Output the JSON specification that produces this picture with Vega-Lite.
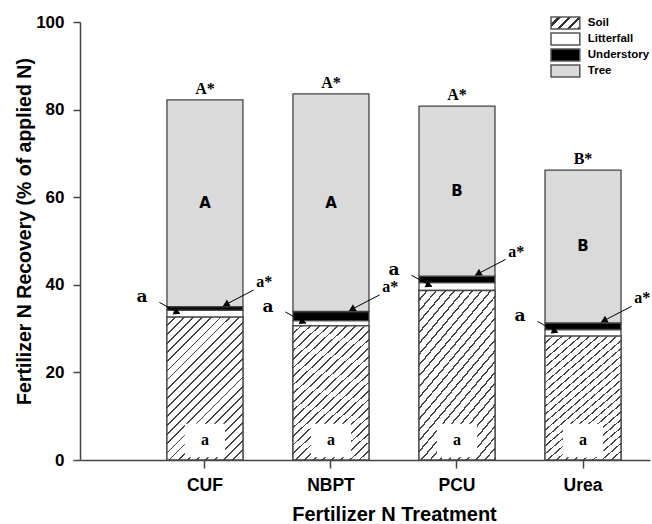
{
  "$schema": "https://vega.github.io/schema/vega-lite/v6.json",
  "width": 570,
  "height": 438,
  "autosize": "none",
  "padding": {"left": 80, "top": 22, "right": 2, "bottom": 64},
  "background": "white",
  "config": {
    "view": {"stroke": null},
    "font": "Liberation Sans",
    "axis": {"grid": false, "domainColor": "#444", "tickColor": "#444", "domainWidth": 1.5, "tickWidth": 1.5, "labelColor": "#000", "titleColor": "#000", "labelFont": "Liberation Sans", "titleFont": "Liberation Sans", "labelFontWeight": "bold", "titleFontWeight": "bold"}
  },
  "data": {
    "values": [
      {"treatment": "CUF", "Soil": 32.6, "Litterfall": 1.6, "Understory": 0.8, "Tree": 47.2, "sigTotal": "A*", "sigTree": "A", "sigSoil": "a", "sigLitter": "a", "sigUnder": "a*"},
      {"treatment": "NBPT", "Soil": 30.6, "Litterfall": 1.2, "Understory": 2.1, "Tree": 49.7, "sigTotal": "A*", "sigTree": "A", "sigSoil": "a", "sigLitter": "a", "sigUnder": "a*"},
      {"treatment": "PCU", "Soil": 38.7, "Litterfall": 1.8, "Understory": 1.5, "Tree": 38.8, "sigTotal": "A*", "sigTree": "B", "sigSoil": "a", "sigLitter": "a", "sigUnder": "a*"},
      {"treatment": "Urea", "Soil": 28.3, "Litterfall": 1.5, "Understory": 1.5, "Tree": 34.9, "sigTotal": "B*", "sigTree": "B", "sigSoil": "a", "sigLitter": "a", "sigUnder": "a*"}
    ]
  },
  "transform": [
    {"calculate": "datum.Soil + datum.Litterfall", "as": "cum1"},
    {"calculate": "datum.cum1 + datum.Understory", "as": "cum2"},
    {"calculate": "datum.cum2 + datum.Tree", "as": "total"},
    {"calculate": "datum.cum2 + datum.Tree / 2", "as": "treeMid"},
    {"calculate": "datum.Soil + datum.Litterfall / 2", "as": "tipL"},
    {"calculate": "datum.tipL + 2.6", "as": "startL"},
    {"calculate": "datum.tipL + 0.3", "as": "headL"},
    {"calculate": "datum.tipL + 3.8", "as": "labL"},
    {"calculate": "datum.cum2 + 0.2", "as": "tipR"},
    {"calculate": "datum.cum2 + 3.8", "as": "startR"},
    {"calculate": "datum.cum2 + 0.5", "as": "headR"},
    {"calculate": "datum.cum2 + 5.6", "as": "labR"}
  ],
  "layer": [
    {
      "transform": [
        {"fold": ["Soil", "Litterfall", "Understory", "Tree"], "as": ["component", "pct"]},
        {"calculate": "indexof(['Soil','Litterfall','Understory','Tree'], datum.component)", "as": "ord"}
      ],
      "mark": {"type": "bar", "stroke": "#444", "strokeWidth": 1.3},
      "encoding": {
        "x": {"field": "treatment", "type": "nominal", "sort": null, "title": "Fertilizer N Treatment",
          "scale": {"paddingInner": 0.397, "paddingOuter": 0.46, "align": 0.75},
          "axis": {"labelAngle": 0, "labelFontSize": 17.5, "tickSize": 8, "labelPadding": 8, "titleFontSize": 20, "titlePadding": 11, "titleX": 314}},
        "y": {"field": "pct", "type": "quantitative", "stack": "zero", "title": "Fertilizer N Recovery (% of applied N)",
          "scale": {"domain": [0, 100], "nice": false},
          "axis": {"values": [0, 20, 40, 60, 80, 100], "tickSize": 7, "labelPadding": 9, "labelFontSize": 17, "titleFontSize": 19.5, "titlePadding": 1, "titleY": 209}},
        "fill": {"field": "component", "type": "nominal", "sort": ["Soil", "Litterfall", "Understory", "Tree"],
          "scale": {"domain": ["Soil", "Litterfall", "Understory", "Tree"], "range": [
            {"expr": "{gradient: 'linear', x1: 0, y1: 0, x2: 1.2, y2: 0.5, stops: [{offset: 0, color: '#fff'}, {offset: 0.17, color: '#fff'}, {offset: 0.17, color: '#333'}, {offset: 0.25, color: '#333'}, {offset: 0.25, color: '#fff'}, {offset: 0.42, color: '#fff'}, {offset: 0.42, color: '#333'}, {offset: 0.5, color: '#333'}, {offset: 0.5, color: '#fff'}, {offset: 0.67, color: '#fff'}, {offset: 0.67, color: '#333'}, {offset: 0.75, color: '#333'}, {offset: 0.75, color: '#fff'}, {offset: 0.92, color: '#fff'}, {offset: 0.92, color: '#333'}, {offset: 1, color: '#333'}]}"},
            "#ffffff", "#000000", "#dadada"]},
          "legend": {
            "orient": "none", "legendX": 478.4, "legendY": -6, "title": null, "padding": 0,
            "symbolType": "M-2.4,-1H2.4V1H-2.4Z", "symbolSize": 144, "symbolStrokeColor": "#444", "symbolStrokeWidth": 1.5, "symbolOpacity": 1,
            "labelFont": "Liberation Sans", "labelFontWeight": "bold", "labelFontSize": 11.5, "labelOffset": 15.4, "rowPadding": -2.5, "labelColor": "#000",
            "encode": {"symbols": {"update": {
              "stroke": {"value": "#555"},
              "strokeWidth": {"value": 1.5}
            }}}
          }},
        "order": {"field": "ord", "type": "quantitative"}
      }
    },
    {
      "mark": {"type": "bar", "stroke": "#444", "strokeWidth": 1.3,
        "fill": {"gradient": "linear", "x1": 0, "y1": 0, "x2": 0.635, "y2": 1.194, "stops": [
          {"offset": 0, "color": "#fff"}, {"offset": 0.033, "color": "#fff"}, {"offset": 0.033, "color": "#444"}, {"offset": 0.04167, "color": "#444"},
          {"offset": 0.04167, "color": "#fff"}, {"offset": 0.075, "color": "#fff"}, {"offset": 0.075, "color": "#444"}, {"offset": 0.08333, "color": "#444"},
          {"offset": 0.08333, "color": "#fff"}, {"offset": 0.11667, "color": "#fff"}, {"offset": 0.11667, "color": "#444"}, {"offset": 0.125, "color": "#444"},
          {"offset": 0.125, "color": "#fff"}, {"offset": 0.15833, "color": "#fff"}, {"offset": 0.15833, "color": "#444"}, {"offset": 0.16667, "color": "#444"},
          {"offset": 0.16667, "color": "#fff"}, {"offset": 0.2, "color": "#fff"}, {"offset": 0.2, "color": "#444"}, {"offset": 0.20833, "color": "#444"},
          {"offset": 0.20833, "color": "#fff"}, {"offset": 0.24167, "color": "#fff"}, {"offset": 0.24167, "color": "#444"}, {"offset": 0.25, "color": "#444"},
          {"offset": 0.25, "color": "#fff"}, {"offset": 0.28333, "color": "#fff"}, {"offset": 0.28333, "color": "#444"}, {"offset": 0.29167, "color": "#444"},
          {"offset": 0.29167, "color": "#fff"}, {"offset": 0.325, "color": "#fff"}, {"offset": 0.325, "color": "#444"}, {"offset": 0.33333, "color": "#444"},
          {"offset": 0.33333, "color": "#fff"}, {"offset": 0.36667, "color": "#fff"}, {"offset": 0.36667, "color": "#444"}, {"offset": 0.375, "color": "#444"},
          {"offset": 0.375, "color": "#fff"}, {"offset": 0.40833, "color": "#fff"}, {"offset": 0.40833, "color": "#444"}, {"offset": 0.41667, "color": "#444"},
          {"offset": 0.41667, "color": "#fff"}, {"offset": 0.45, "color": "#fff"}, {"offset": 0.45, "color": "#444"}, {"offset": 0.45833, "color": "#444"},
          {"offset": 0.45833, "color": "#fff"}, {"offset": 0.49167, "color": "#fff"}, {"offset": 0.49167, "color": "#444"}, {"offset": 0.5, "color": "#444"},
          {"offset": 0.5, "color": "#fff"}, {"offset": 0.53333, "color": "#fff"}, {"offset": 0.53333, "color": "#444"}, {"offset": 0.54167, "color": "#444"},
          {"offset": 0.54167, "color": "#fff"}, {"offset": 0.575, "color": "#fff"}, {"offset": 0.575, "color": "#444"}, {"offset": 0.58333, "color": "#444"},
          {"offset": 0.58333, "color": "#fff"}, {"offset": 0.61667, "color": "#fff"}, {"offset": 0.61667, "color": "#444"}, {"offset": 0.625, "color": "#444"},
          {"offset": 0.625, "color": "#fff"}, {"offset": 0.65833, "color": "#fff"}, {"offset": 0.65833, "color": "#444"}, {"offset": 0.66667, "color": "#444"},
          {"offset": 0.66667, "color": "#fff"}, {"offset": 0.7, "color": "#fff"}, {"offset": 0.7, "color": "#444"}, {"offset": 0.70833, "color": "#444"},
          {"offset": 0.70833, "color": "#fff"}, {"offset": 0.74167, "color": "#fff"}, {"offset": 0.74167, "color": "#444"}, {"offset": 0.75, "color": "#444"},
          {"offset": 0.75, "color": "#fff"}, {"offset": 0.78333, "color": "#fff"}, {"offset": 0.78333, "color": "#444"}, {"offset": 0.79167, "color": "#444"},
          {"offset": 0.79167, "color": "#fff"}, {"offset": 0.825, "color": "#fff"}, {"offset": 0.825, "color": "#444"}, {"offset": 0.83333, "color": "#444"},
          {"offset": 0.83333, "color": "#fff"}, {"offset": 0.86667, "color": "#fff"}, {"offset": 0.86667, "color": "#444"}, {"offset": 0.875, "color": "#444"},
          {"offset": 0.875, "color": "#fff"}, {"offset": 0.90833, "color": "#fff"}, {"offset": 0.90833, "color": "#444"}, {"offset": 0.91667, "color": "#444"},
          {"offset": 0.91667, "color": "#fff"}, {"offset": 0.95, "color": "#fff"}, {"offset": 0.95, "color": "#444"}, {"offset": 0.95833, "color": "#444"},
          {"offset": 0.95833, "color": "#fff"}, {"offset": 0.99167, "color": "#fff"}, {"offset": 0.99167, "color": "#444"}, {"offset": 1, "color": "#444"}
        ]}},
      "encoding": {
        "x": {"field": "treatment", "type": "nominal", "sort": null, "title": "Fertilizer N Treatment"},
        "y": {"field": "Soil", "type": "quantitative", "title": "Fertilizer N Recovery (% of applied N)"}
      }
    },
    {
      "mark": {"type": "bar", "fill": "#ffffff", "width": {"band": 0.53}},
      "encoding": {
        "x": {"field": "treatment", "type": "nominal", "sort": null, "title": "Fertilizer N Treatment"},
        "y": {"datum": 0.6, "type": "quantitative", "title": "Fertilizer N Recovery (% of applied N)"},
        "y2": {"datum": 8.3}
      }
    },
    {
      "mark": {"type": "text", "font": "Liberation Serif", "fontWeight": "bold", "fontSize": 16, "baseline": "middle", "color": "#000"},
      "encoding": {
        "x": {"field": "treatment", "type": "nominal", "sort": null, "title": "Fertilizer N Treatment"},
        "y": {"datum": 4.6, "type": "quantitative", "title": "Fertilizer N Recovery (% of applied N)"},
        "text": {"field": "sigSoil"}
      }
    },
    {
      "mark": {"type": "text", "font": "DejaVu Sans", "fontWeight": "bold", "fontSize": 15, "baseline": "middle", "color": "#000"},
      "encoding": {
        "x": {"field": "treatment", "type": "nominal", "sort": null, "title": "Fertilizer N Treatment"},
        "y": {"field": "treeMid", "type": "quantitative", "title": "Fertilizer N Recovery (% of applied N)"},
        "text": {"field": "sigTree"}
      }
    },
    {
      "mark": {"type": "text", "font": "Liberation Serif", "fontWeight": "bold", "fontSize": 16, "baseline": "bottom", "dy": -3, "color": "#000"},
      "encoding": {
        "x": {"field": "treatment", "type": "nominal", "sort": null, "title": "Fertilizer N Treatment"},
        "y": {"field": "total", "type": "quantitative", "title": "Fertilizer N Recovery (% of applied N)"},
        "text": {"field": "sigTotal"}
      }
    },
    {
      "mark": {"type": "rule", "color": "#000", "strokeWidth": 1},
      "encoding": {
        "x": {"field": "treatment", "type": "nominal", "sort": null, "bandPosition": -0.1, "title": "Fertilizer N Treatment"},
        "x2": {"field": "treatment", "bandPosition": 0.17},
        "y": {"field": "startL", "type": "quantitative", "title": "Fertilizer N Recovery (% of applied N)"},
        "y2": {"field": "tipL"}
      }
    },
    {
      "mark": {"type": "point", "shape": "triangle-right", "filled": true, "color": "#000", "opacity": 1, "size": 60, "angle": 25},
      "encoding": {
        "x": {"field": "treatment", "type": "nominal", "sort": null, "bandPosition": 0.135, "title": "Fertilizer N Treatment"},
        "y": {"field": "headL", "type": "quantitative", "title": "Fertilizer N Recovery (% of applied N)"}
      }
    },
    {
      "mark": {"type": "text", "font": "DejaVu Serif", "fontWeight": "bold", "fontSize": 17, "baseline": "middle", "color": "#000"},
      "encoding": {
        "x": {"field": "treatment", "type": "nominal", "sort": null, "bandPosition": -0.33, "title": "Fertilizer N Treatment"},
        "y": {"field": "labL", "type": "quantitative", "title": "Fertilizer N Recovery (% of applied N)"},
        "text": {"field": "sigLitter"}
      }
    },
    {
      "mark": {"type": "rule", "color": "#000", "strokeWidth": 1},
      "encoding": {
        "x": {"field": "treatment", "type": "nominal", "sort": null, "bandPosition": 1.14, "title": "Fertilizer N Treatment"},
        "x2": {"field": "treatment", "bandPosition": 0.74},
        "y": {"field": "startR", "type": "quantitative", "title": "Fertilizer N Recovery (% of applied N)"},
        "y2": {"field": "tipR"}
      }
    },
    {
      "mark": {"type": "point", "shape": "triangle-right", "filled": true, "color": "#000", "opacity": 1, "size": 60, "angle": 151},
      "encoding": {
        "x": {"field": "treatment", "type": "nominal", "sort": null, "bandPosition": 0.775, "title": "Fertilizer N Treatment"},
        "y": {"field": "headR", "type": "quantitative", "title": "Fertilizer N Recovery (% of applied N)"}
      }
    },
    {
      "mark": {"type": "text", "font": "Liberation Serif", "fontWeight": "bold", "fontSize": 16, "baseline": "middle", "color": "#000"},
      "encoding": {
        "x": {"field": "treatment", "type": "nominal", "sort": null, "bandPosition": 1.28, "title": "Fertilizer N Treatment"},
        "y": {"field": "labR", "type": "quantitative", "title": "Fertilizer N Recovery (% of applied N)"},
        "text": {"field": "sigUnder"}
      }
    }
  ]
}
